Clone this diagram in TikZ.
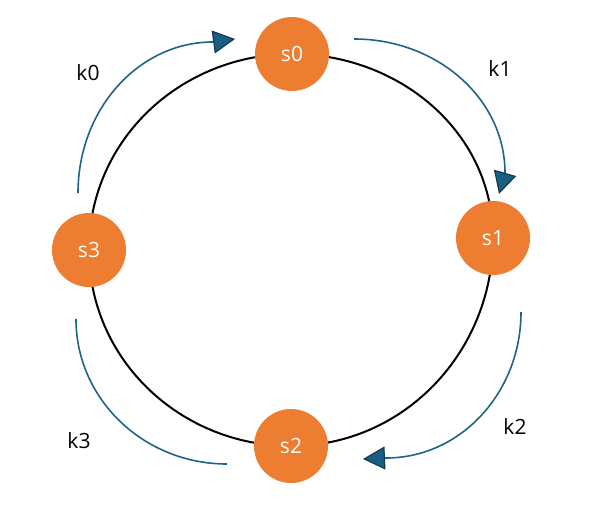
\documentclass[tikz,border=0pt]{standalone}
\usepackage{fontspec}
\setmainfont{Open Sans}
\usetikzlibrary{arrows.meta,backgrounds}
\definecolor{nodeorange}{RGB}{237,125,49}
\definecolor{keyblue}{RGB}{31,100,135}
\definecolor{tipfill}{RGB}{26,94,130}
\definecolor{tipline}{RGB}{20,58,82}
\tikzset{
  server/.style={circle, fill=nodeorange, draw=none, minimum size=74pt, inner sep=0pt,
    text=white, font=\fontsize{21pt}{25pt}\selectfont},
  ring/.style={draw=black, line width=2pt},
  keyarc/.style={draw=keyblue, line width=1.6pt},
  keytip/.style={-{Triangle[length=22pt,width=23pt,fill=tipfill,color=tipline,line width=1.2pt]}},
  keylabel/.style={font=\fontsize{21pt}{25pt}\selectfont, text=black, inner sep=0pt}
}
\begin{document}
\begin{tikzpicture}[x=1pt,y=1pt]
\useasboundingbox (0,0) rectangle (591,506);
% servers
\node[server] (s0) at (292,452) {s0};
\node[server] (s1) at (493,268) {s1};
\node[server] (s2) at (291,60) {s2};
\node[server] (s3) at (89,256) {s3};
% ring
\begin{pgfonlayer}{background}
\draw[ring] (s0.center) to[out=0,in=90] (s1.center);
\draw[ring] (s1.center) to[out=-90,in=0] (s2.center);
\draw[ring] (s2.center) to[out=180,in=-90] (s3.center);
\draw[ring] (s3.center) to[out=90,in=180] (s0.center);
\end{pgfonlayer}
% key arcs
\coordinate (a0) at (78,313);
\coordinate (a1) at (354,467);
\coordinate (a2) at (521,194);
\coordinate (a3) at (76,187);
\draw[keyarc] (a0) arc[start angle=180, end angle=90, x radius=135, y radius=151] coordinate (b0);
\draw[keyarc,keytip] (b0) -- ++(22,3);
\draw[keyarc] (a1) arc[start angle=90, end angle=0, x radius=151, y radius=134] coordinate (b1);
\draw[keyarc,keytip] (b1) -- ++(-6,-21);
\draw[keyarc] (a2) arc[start angle=0, end angle=-90, x radius=135, y radius=146] coordinate (b2);
\draw[keyarc,keytip] (b2) -- ++(-23,-1);
\draw[keyarc] (a3) arc[start angle=180, end angle=270, x radius=151, y radius=145];
% labels
\node[keylabel] (k0) at (88,433) {k0};
\node[keylabel] (k1) at (500,437) {k1};
\node[keylabel] (k2) at (515,79) {k2};
\node[keylabel] (k3) at (79,65) {k3};
\end{tikzpicture}
\end{document}
